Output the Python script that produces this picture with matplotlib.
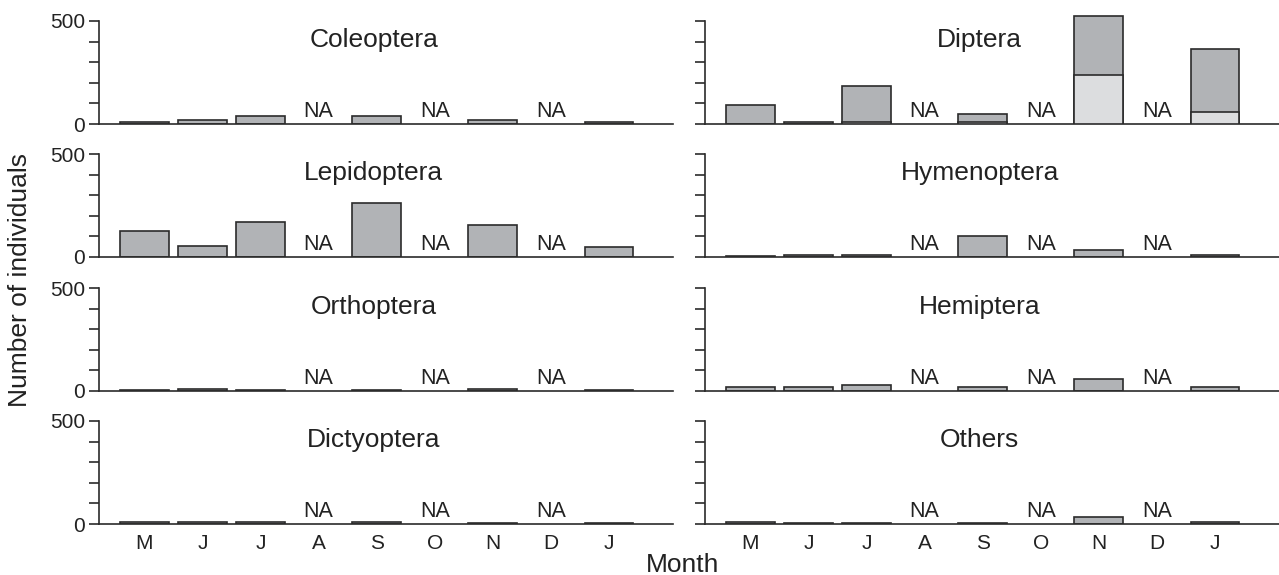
import numpy as np
import matplotlib
matplotlib.use("Agg")
import matplotlib.pyplot as plt

plt.rcParams['font.family'] = ['Liberation Sans', 'DejaVu Sans']

months = ['M', 'J', 'J', 'A', 'S', 'O', 'N', 'D', 'J']
# None = not sampled (NA)
orders = ['Coleoptera', 'Diptera', 'Lepidoptera', 'Hymenoptera',
          'Orthoptera', 'Hemiptera', 'Dictyoptera', 'Others']

coleoptera = [8, 19, 40, None, 40, None, 19, None, 8]
diptera_total = [92, 8, 186, None, 50, None, 524, None, 366]
diptera_light = [0, 0, 8, None, 8, None, 239, None, 60]
lepidoptera = [126, 53, 170, None, 260, None, 154, None, 50]
hymenoptera = [3, 8, 8, None, 102, None, 32, None, 8]
orthoptera = [3, 12, 3, None, 3, None, 12, None, 3]
hemiptera = [20, 20, 30, None, 20, None, 60, None, 20]
dictyoptera = [12, 12, 12, None, 12, None, 4, None, 4]
others = [10, 4, 4, None, 4, None, 32, None, 10]

series = [coleoptera, diptera_total, lepidoptera, hymenoptera,
          orthoptera, hemiptera, dictyoptera, others]

dark = '#b1b3b6'
light = '#dcdddf'
edge = '#2b2b2b'

W, H = 1279, 575
fig = plt.figure(figsize=(W / 100, H / 100), dpi=100)

px_per_unit = 103 / 500
ytop = 550
ax_h = ytop * px_per_unit
zero_rows = [124, 257, 391, 524]
lefts = [99, 705]
ax_w = 574

x = np.arange(len(months))

for k, (name, vals) in enumerate(zip(orders, series)):
    row, col = divmod(k, 2)
    ax = fig.add_axes([lefts[col] / W, 1 - zero_rows[row] / H, ax_w / W, ax_h / H])
    ax.set_xlim(-0.78, 9.1)
    ax.set_ylim(0, ytop)
    for i, v in enumerate(vals):
        if v is None:
            ax.text(x[i], 8, 'NA', ha='center', va='bottom', fontsize=15.5, color='#222222')
            continue
        ax.bar(x[i], v, width=0.84, color=dark, edgecolor=edge, linewidth=1.2, zorder=2)
        if name == 'Diptera' and diptera_light[i]:
            ax.bar(x[i], diptera_light[i], width=0.84, color=light, edgecolor=edge,
                   linewidth=1.2, zorder=3)
    ax.text(3.95, 410, name, ha='center', va='center', fontsize=19, color='#222222')

    for s in ['top', 'right']:
        ax.spines[s].set_visible(False)
    ax.spines['left'].set_bounds(0, 500)
    for s in ['left', 'bottom']:
        ax.spines[s].set_color(edge)
        ax.spines[s].set_linewidth(1.2)
    ax.set_yticks([0, 100, 200, 300, 400, 500])
    if col == 0:
        ax.set_yticklabels(['0', '', '', '', '', '500'])
    else:
        ax.set_yticklabels([])
    ax.tick_params(axis='y', length=7, width=1.2, color=edge, labelsize=15,
                   labelcolor='#222222', pad=3)
    ax.set_xticks(x)
    if row == 3:
        ax.set_xticklabels(months)
    else:
        ax.set_xticklabels([])
    ax.tick_params(axis='x', length=0, labelsize=15, labelcolor='#222222', pad=7)

fig.text(20 / W, 1 - 280 / H, 'Number of individuals', rotation=90,
         ha='center', va='center', fontsize=19, color='#222222')
fig.text(683 / W, 1 - 565 / H, 'Month', ha='center', va='center',
         fontsize=19, color='#222222')

fig.savefig('out.png', dpi=100)
